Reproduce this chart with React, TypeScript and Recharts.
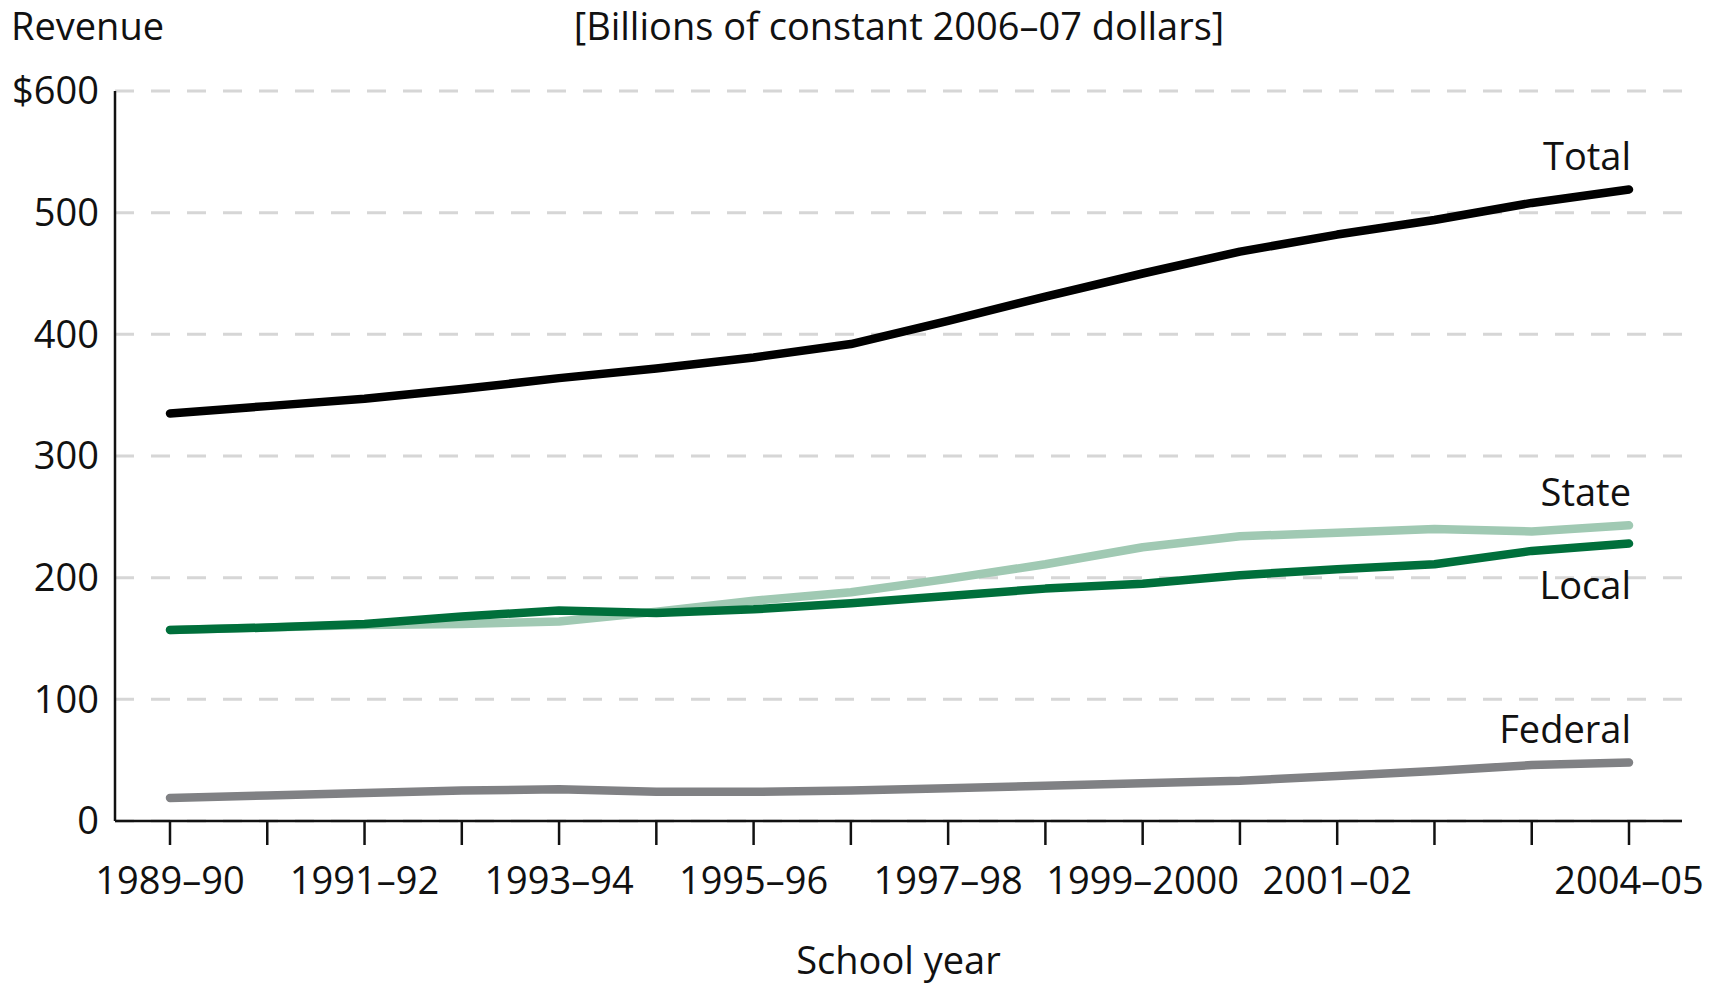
import React from "react";
import {
  LineChart,
  Line,
  XAxis,
  YAxis,
  CartesianGrid,
  Label,
} from "recharts";

const schoolYears = [
  "1989–90", "1990–91", "1991–92", "1992–93", "1993–94", "1994–95",
  "1995–96", "1996–97", "1997–98", "1998–99", "1999–2000", "2000–01",
  "2001–02", "2002–03", "2003–04", "2004–05",
];
const labeledYears = [
  "1989–90", "1991–92", "1993–94", "1995–96", "1997–98", "1999–2000",
  "2001–02", "2004–05",
];
const totalRevenue = [335, 341, 347, 355, 364, 372, 381, 392, 411, 431, 450, 468, 482, 494, 508, 519];
const stateRevenue = [157, 159, 161, 162, 164, 172, 181, 188, 199, 211, 225, 234, 237, 240, 238, 243];
const localRevenue = [157, 159, 162, 168, 173, 171, 174, 179, 185, 191, 195, 202, 207, 211, 222, 228];
const federalRevenue = [19, 21, 23, 25, 26, 24, 24, 25, 27, 29, 31, 33, 37, 41, 46, 48];
const yTicks = [0, 100, 200, 300, 400, 500, 600];

const data = schoolYears.map((year, i) => ({
  year,
  total: totalRevenue[i],
  state: stateRevenue[i],
  local: localRevenue[i],
  federal: federalRevenue[i],
}));

const FONT = '"Open Sans", sans-serif';
const FS = 38;
const last = schoolYears.length - 1;

function endLabel(text: string, offset: number) {
  return (props: any) => {
    if (props.index !== last) return null;
    return (
      <text
        x={props.x + 2}
        y={props.y + offset}
        dy="0.355em"
        textAnchor="end"
        fontSize={FS}
        fontFamily={FONT}
        fill="#111"
      >
        {text}
      </text>
    );
  };
}

function YearTick(props: any) {
  const { x, y, payload } = props;
  if (!labeledYears.includes(payload.value)) return null;
  return (
    <text x={x} y={y} dy="0.71em" textAnchor="middle" fontSize={FS} fontFamily={FONT} fill="#111">
      {payload.value}
    </text>
  );
}

export default function App() {
  return (
    <div
      style={{
        position: "absolute",
        left: 0,
        top: 0,
        width: 1720,
        height: 987,
        background: "#fff",
        fontFamily: FONT,
      }}
    >
      <div style={{ position: "absolute", left: 11, top: 6, fontSize: FS, lineHeight: "38px", color: "#111" }}>
        Revenue
      </div>
      <div
        style={{
          position: "absolute",
          left: 899,
          top: 6,
          transform: "translateX(-50%)",
          whiteSpace: "nowrap",
          fontSize: FS,
          lineHeight: "38px",
          color: "#111",
        }}
      >
        [Billions of constant 2006–07 dollars]
      </div>
      <LineChart
        width={1720}
        height={987}
        data={data}
        margin={{ top: 91, right: 38, bottom: 0, left: 0 }}
      >
        <CartesianGrid
          vertical={false}
          stroke="#d6d6d6"
          strokeWidth={3}
          strokeDasharray="19 17"
        />
        <XAxis
          dataKey="year"
          interval={0}
          height={166}
          padding={{ left: 55, right: 53 }}
          axisLine={{ stroke: "#111", strokeWidth: 2.5 }}
          tickLine={{ stroke: "#111", strokeWidth: 2.5 }}
          tickSize={24}
          tickMargin={22}
          tick={<YearTick />}
        >
          <Label
            value="School year"
            position="insideBottom"
            offset={13}
            fontSize={FS}
            fontFamily={FONT}
            fill="#111"
          />
        </XAxis>
        <YAxis
          width={115}
          domain={[0, 600]}
          ticks={yTicks}
          interval={0}
          axisLine={{ stroke: "#111", strokeWidth: 2.5 }}
          tickLine={false}
          tickSize={0}
          tickMargin={16}
          tick={{ fontSize: FS, fontFamily: FONT, fill: "#111" }}
          tickFormatter={(v: number) => (v === 600 ? "$600" : String(v))}
        />
        <Line
          dataKey="federal"
          stroke="#808184"
          strokeWidth={8.5}
          strokeLinecap="round"
          strokeLinejoin="round"
          dot={false}
          activeDot={false}
          isAnimationActive={false}
          label={endLabel("Federal", -33)}
        />
        <Line
          dataKey="state"
          stroke="#a0c9b3"
          strokeWidth={8.5}
          strokeLinecap="round"
          strokeLinejoin="round"
          dot={false}
          activeDot={false}
          isAnimationActive={false}
          label={endLabel("State", -33)}
        />
        <Line
          dataKey="local"
          stroke="#006f3b"
          strokeWidth={8.5}
          strokeLinecap="round"
          strokeLinejoin="round"
          dot={false}
          activeDot={false}
          isAnimationActive={false}
          label={endLabel("Local", 42)}
        />
        <Line
          dataKey="total"
          stroke="#000"
          strokeWidth={8.5}
          strokeLinecap="round"
          strokeLinejoin="round"
          dot={false}
          activeDot={false}
          isAnimationActive={false}
          label={endLabel("Total", -33)}
        />
      </LineChart>
    </div>
  );
}
